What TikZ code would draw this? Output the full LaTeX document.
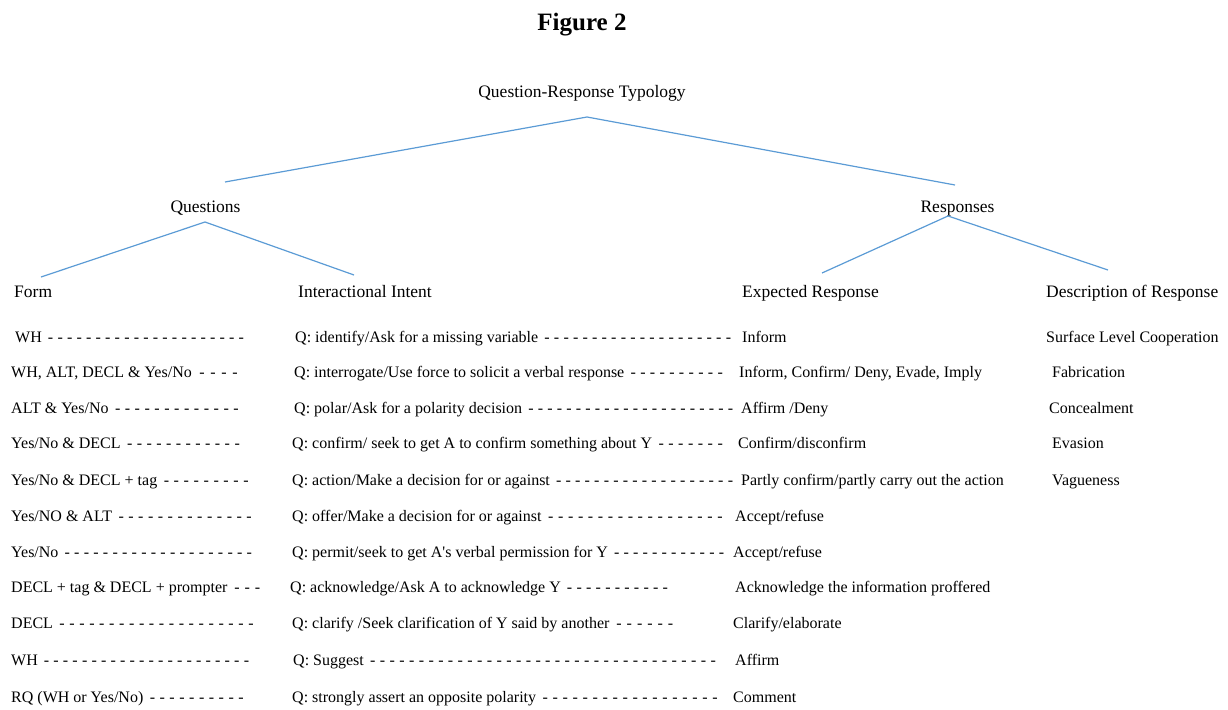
\documentclass[tikz,border=0pt]{standalone}
\usepackage{fontspec}
\setmainfont{Liberation Serif}
\newcommand{\dashfill}[2]{\hbox to #1pt{#2\hskip 0.25em\xleaders\hbox to 9.5pt{\hss-\hss}\hfill}}
\definecolor{treeblue}{RGB}{91,155,213}
\begin{document}
\begin{tikzpicture}[x=1pt,y=-1pt,
  row/.style={anchor=base west, inner sep=0pt, font=\fontsize{16}{18}\selectfont},
  head/.style={anchor=base, inner sep=0pt, font=\fontsize{17.5}{20}\selectfont},
  colhead/.style={anchor=base west, inner sep=0pt, font=\fontsize{17.5}{20}\selectfont},
  branch/.style={draw=treeblue, line width=1.2pt}]
\useasboundingbox (0,0) rectangle (1228,709);
% title
\node[anchor=base, inner sep=0pt, font=\fontsize{25}{27}\selectfont\bfseries] (fig) at (582,31) {Figure 2};
% tree headings
\node[head] (root) at (582,97) {Question-Response Typology};
\node[head] (quest) at (205.5,212) {Questions};
\node[head] (resp) at (957.5,212) {Responses};
\node[colhead] (form) at (14,297) {Form};
\node[colhead] (intent) at (298,297) {Interactional Intent};
\node[colhead] (expect) at (742,297) {Expected Response};
\node[colhead] (desc) at (1046,297) {Description of Response};
% branch ends
\coordinate (rootB) at (587,117);
\coordinate (questT) at (225,182);
\coordinate (respT) at (955,185);
\coordinate (questB) at (205,222);
\coordinate (formT) at (41,277);
\coordinate (intentT) at (354,275);
\coordinate (respB) at (948,216);
\coordinate (expectT) at (822,273);
\coordinate (descT) at (1108,270);
\draw[branch] (rootB) -- (questT);
\draw[branch] (rootB) -- (respT);
\draw[branch] (questB) -- (formT);
\draw[branch] (questB) -- (intentT);
\draw[branch] (respB) -- (expectT);
\draw[branch] (respB) -- (descT);
% Form column
\node[row] (f1) at (15,342) {\dashfill{231}{WH}};
\node[row] (f2) at (11,377) {\dashfill{230}{WH, ALT, DECL \& Yes/No}};
\node[row] (f3) at (11,413) {\dashfill{230}{ALT \& Yes/No}};
\node[row] (f4) at (11,448) {\dashfill{231}{Yes/No \& DECL}};
\node[row] (f5) at (11,485) {\dashfill{240}{Yes/No \& DECL + tag}};
\node[row] (f6) at (11,521) {\dashfill{243}{Yes/NO \& ALT}};
\node[row] (f7) at (11,557) {\dashfill{243}{Yes/No}};
\node[row] (f8) at (11,592) {\dashfill{252}{DECL + tag \& DECL + prompter}};
\node[row] (f9) at (11,628) {\dashfill{245}{DECL}};
\node[row] (f10) at (11,665) {\dashfill{240}{WH}};
\node[row] (f11) at (11,702) {\dashfill{235}{RQ (WH or Yes/No)}};
% Interactional intent column
\node[row] (i1) at (295,342) {\dashfill{438}{Q: identify/Ask for a missing variable}};
\node[row] (i2) at (294,377) {\dashfill{431}{Q: interrogate/Use force to solicit a verbal response}};
\node[row] (i3) at (294,413) {\dashfill{441}{Q: polar/Ask for a polarity decision}};
\node[row] (i4) at (292,448) {\dashfill{433}{Q: confirm/ seek to get A to confirm something about Y}};
\node[row] (i5) at (292,485) {\dashfill{443}{Q: action/Make a decision for or against}};
\node[row] (i6) at (292,521) {\dashfill{433}{Q: offer/Make a decision for or against}};
\node[row] (i7) at (292,557) {\dashfill{434}{Q: permit/seek to get A\textquotesingle s verbal permission for Y}};
\node[row] (i8) at (290,592) {\dashfill{380}{Q: acknowledge/Ask A to acknowledge Y}};
\node[row] (i9) at (292,628) {\dashfill{384}{Q: clarify /Seek clarification of Y said by another}};
\node[row] (i10) at (293,665) {\dashfill{425}{Q: Suggest}};
\node[row] (i11) at (292,702) {\dashfill{428}{Q: strongly assert an opposite polarity}};
% Expected response column
\node[row] (e1) at (742,342) {Inform};
\node[row] (e2) at (739,377) {Inform, Confirm/ Deny, Evade, Imply};
\node[row] (e3) at (741,413) {Affirm /Deny};
\node[row] (e4) at (738,448) {Confirm/disconfirm};
\node[row] (e5) at (741,485) {Partly confirm/partly carry out the action};
\node[row] (e6) at (735,521) {Accept/refuse};
\node[row] (e7) at (733,557) {Accept/refuse};
\node[row] (e8) at (735,592) {Acknowledge the information proffered};
\node[row] (e9) at (733,628) {Clarify/elaborate};
\node[row] (e10) at (735,665) {Affirm};
\node[row] (e11) at (733,702) {Comment};
% Description column
\node[row] (d1) at (1046,342) {Surface Level Cooperation};
\node[row] (d2) at (1052,377) {Fabrication};
\node[row] (d3) at (1049,413) {Concealment};
\node[row] (d4) at (1052,448) {Evasion};
\node[row] (d5) at (1052,485) {Vagueness};
\end{tikzpicture}
\end{document}
